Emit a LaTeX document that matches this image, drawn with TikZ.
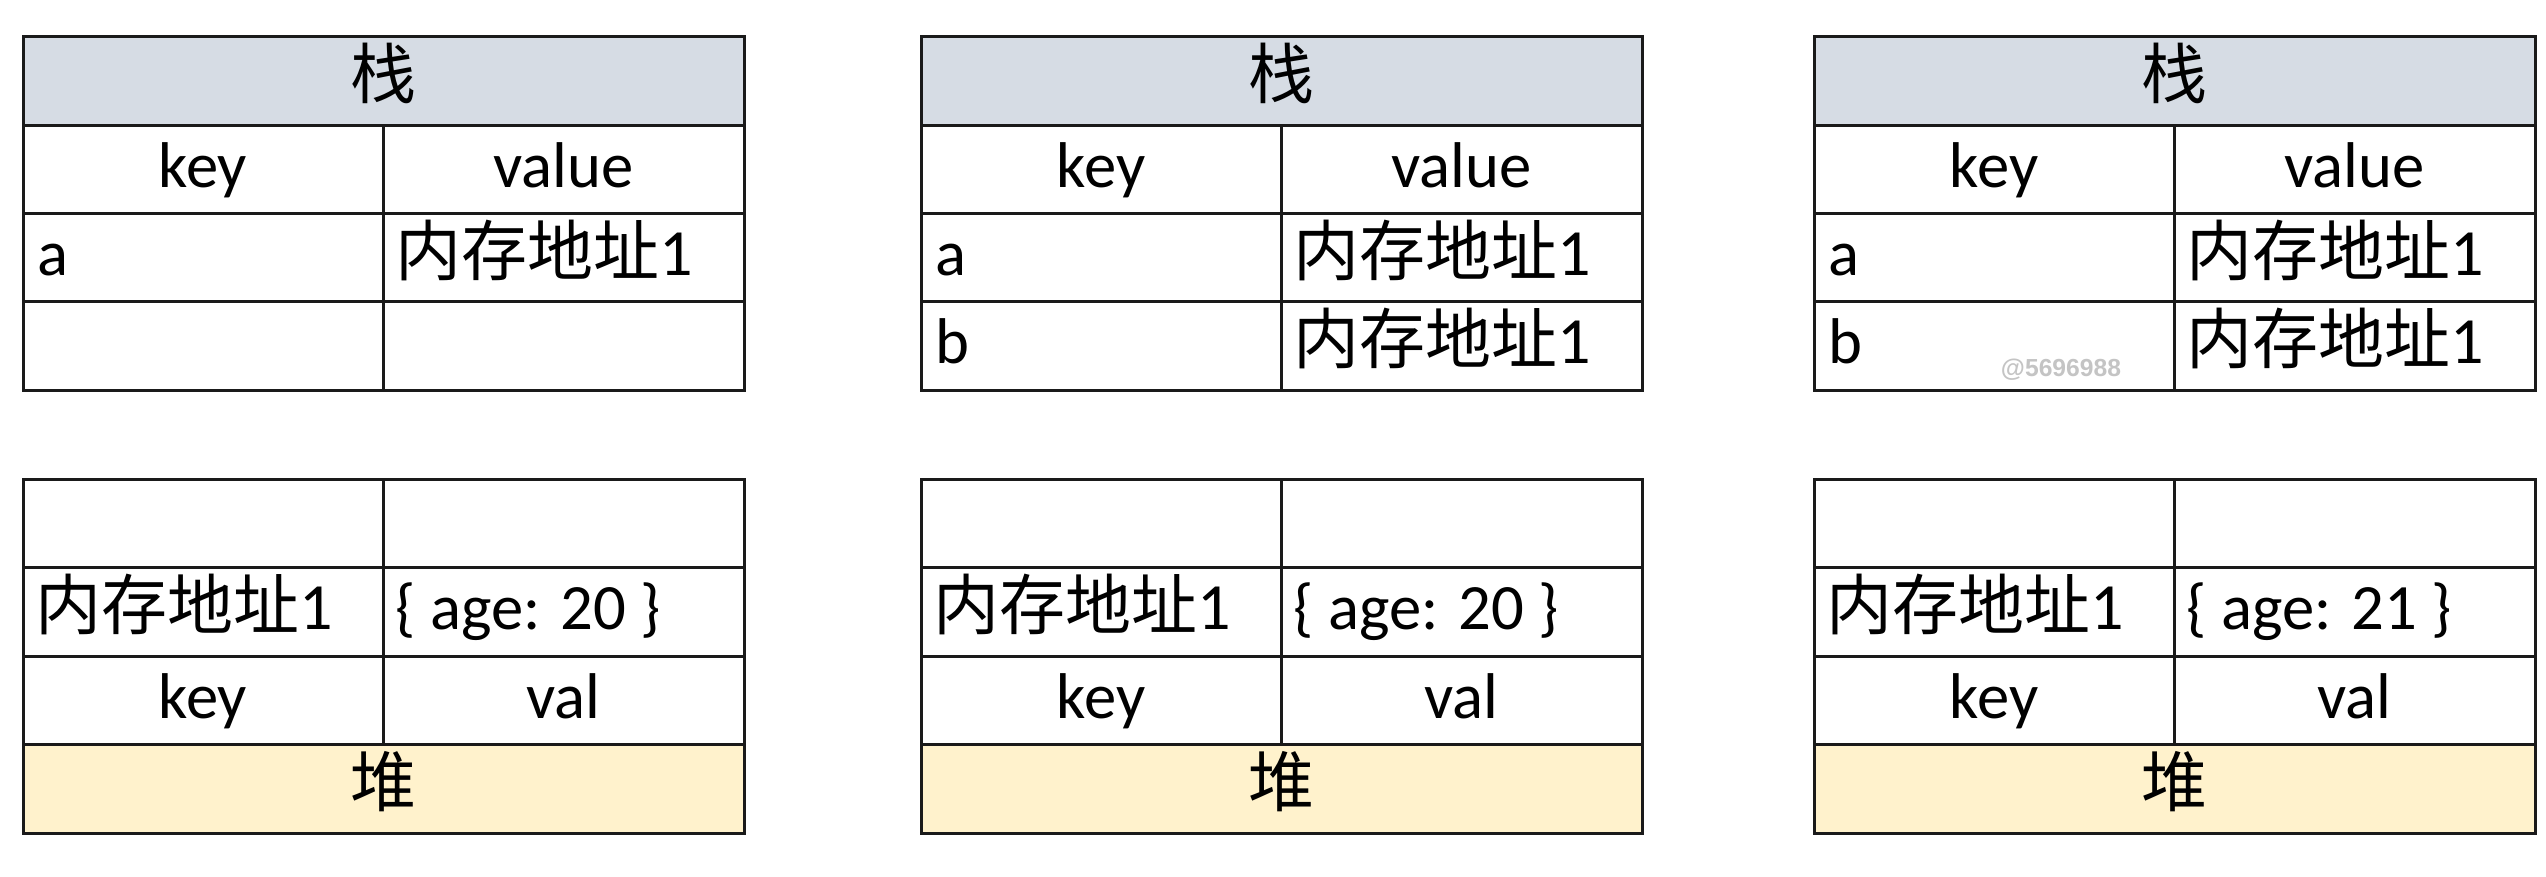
\documentclass[tikz,border=0pt]{standalone}
\usepackage{fontspec}
\setmainfont{Carlito}
\newfontfamily\cjk{Noto Sans CJK SC}
\newfontfamily\wmfont{Liberation Sans}
\definecolor{stackfill}{HTML}{D6DCE4}
\definecolor{heapfill}{HTML}{FFF2CC}
\definecolor{gridcol}{HTML}{1A1A1A}
\definecolor{wmcol}{HTML}{C4C4C4}
\tikzset{
  grid/.style={line width=0.9pt, draw=gridcol},
  txt/.style={inner sep=0pt, text height=1.07em, text depth=0pt, font=\fontsize{19.4pt}{23pt}\selectfont},
  ctxt/.style={inner sep=0pt, text height=1.07em, text depth=0pt, font=\fontsize{19.8pt}{23pt}\selectfont\cjk},
  wm/.style={inner sep=0pt, text=wmcol, font=\fontsize{7.4pt}{9pt}\selectfont\wmfont\bfseries}
}
\begin{document}
\begin{tikzpicture}[x=0.3pt,y=-0.3pt]
\useasboundingbox (0,0) rectangle (2546,876);
\foreach \i/\x in {1/23,2/921,3/1814}{
  % stack table
  \fill[stackfill] (\x,37) rectangle (\x+721,125.25);
  \draw[grid] (\x,37) rectangle (\x+721,390);
  \draw[grid] (\x,125.25) -- (\x+721,125.25)
              (\x,213.5) -- (\x+721,213.5)
              (\x,301.75) -- (\x+721,301.75);
  \draw[grid] (\x+360,125.25) -- (\x+360,390);
  \node[ctxt] (s\i title) at (\x+360.5,81.1) {栈};
  \node[txt] (s\i key) at (\x+180,169.4) {key};
  \node[txt] (s\i value) at (\x+540.5,169.4) {value};
  \node[txt,anchor=west] (s\i a) at (\x+14,257.6) {a};
  \node[ctxt,anchor=west] (s\i aval) at (\x+372,257.6) {内存地址\fontspec{Carlito}1};
  % heap table
  \fill[heapfill] (\x,744.5) rectangle (\x+721,833);
  \draw[grid] (\x,479) rectangle (\x+721,833);
  \draw[grid] (\x,567.5) -- (\x+721,567.5)
              (\x,656) -- (\x+721,656)
              (\x,744.5) -- (\x+721,744.5);
  \draw[grid] (\x+360,479) -- (\x+360,744.5);
  \node[ctxt,anchor=west] (h\i addr) at (\x+12,611.75) {内存地址\fontspec{Carlito}1};
  \node[txt] (h\i key) at (\x+180,700.25) {key};
  \node[txt] (h\i val) at (\x+540.5,700.25) {val};
  \node[ctxt] (h\i title) at (\x+360.5,788.75) {堆};
}
\node[txt,anchor=west] (s2 b) at (935,345.9) {b};
\node[ctxt,anchor=west] (s2 bval) at (1293,345.9) {内存地址\fontspec{Carlito}1};
\node[txt,anchor=west] (s3 b) at (1828,345.9) {b};
\node[ctxt,anchor=west] (s3 bval) at (2186,345.9) {内存地址\fontspec{Carlito}1};
\node[txt,anchor=west] (h1 obj) at (395,611.75) {\{ age: 20 \}};
\node[txt,anchor=west] (h2 obj) at (1293,611.75) {\{ age: 20 \}};
\node[txt,anchor=west] (h3 obj) at (2186,611.75) {\{ age: 21 \}};
\node[wm] (watermark) at (2061,370) {@5696988};
\end{tikzpicture}
\end{document}
